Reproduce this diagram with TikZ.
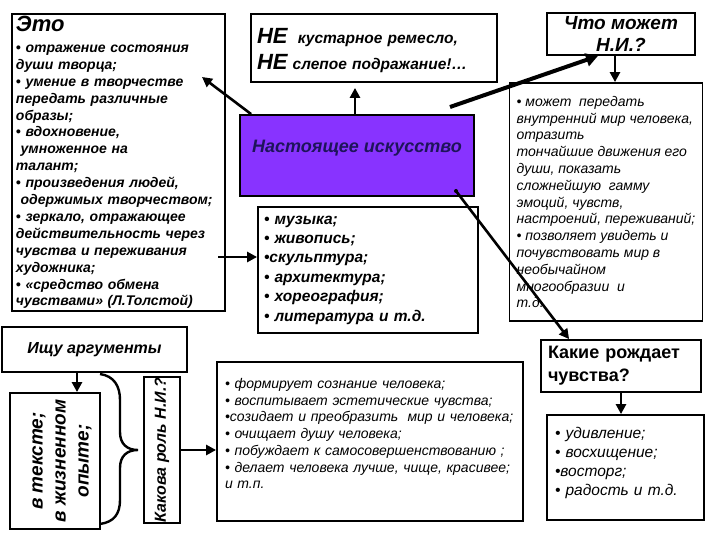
\documentclass[tikz,border=0pt]{standalone}
\usepackage{fontspec}
\setmainfont{Liberation Sans}
\usetikzlibrary{arrows.meta,calc}
\definecolor{artviolet}{RGB}{136,51,255}
\definecolor{artnavy}{RGB}{30,20,90}
\newcommand{\mybi}[2]{\fontsize{#1}{#2}\selectfont\bfseries\itshape}
\newcommand{\myit}[2]{\fontsize{#1}{#2}\selectfont\itshape}
\newcommand{\mybf}[2]{\fontsize{#1}{#2}\selectfont\bfseries}
\begin{document}
\begin{tikzpicture}[x=1pt,y=-1pt,
  box/.style={draw=black, line width=1.8pt, inner sep=0pt, fill=white},
  arr/.style={line width=2.6pt, -{Triangle[length=10pt,width=10pt]}},
  thickarr/.style={line width=4pt, -{Triangle[length=12pt,width=13pt]}}]
\useasboundingbox[fill=white] (0,0) rectangle (720,540);

% boxes
\node[box, minimum width=213pt, minimum height=297pt, text width=205pt, align=left,
      font=\mybi{14}{16.9}] (eto) at (118.5,162.5)
 {{\fontsize{22}{24}\selectfont Это}\\[4pt]
  • отражение состояния\\
  души творца;\\
  • умение в творчестве\\
  передать различные\\
  образы;\\
  • вдохновение,\\
  \ умноженное на\\
  талант;\\
  • произведения людей,\\
  \ одержимых творчеством;\\
  • зеркало, отражающее\\
  действительность через\\
  чувства и переживания\\
  художника;\\
  • «средство обмена\\
  чувствами» (Л.Толстой)};

\node[box, minimum width=246pt, minimum height=68pt, text width=234pt, align=left,
      font=\mybi{15.5}{26}, text depth=24pt] (ne) at (374,48)
 {{\fontsize{22}{24}\selectfont НЕ} \ кустарное ремесло,\\
  {\fontsize{22}{24}\selectfont НЕ} слепое подражание!…};

\node[box, fill=artviolet, minimum width=234pt, minimum height=81pt,
      font=\mybi{18}{21}, text=artnavy, text depth=18pt] (art) at (357,155.5)
 {Настоящее искусство};

\node[box, minimum width=220pt, minimum height=126pt, text width=208pt, align=left,
      font=\mybi{15.5}{19.4}] (list) at (368,270)
 {• музыка;\\
  • живопись;\\
  •скульптура;\\
  • архитектура;\\
  • хореография;\\
  • литература и т.д.};

\node[box, minimum width=148pt, minimum height=42pt, align=center,
      font=\mybi{19}{21.5}, text depth=0pt] (chto) at (621,34)
 {Что может\\ Н.И.?};

\node[box, minimum width=193pt, minimum height=238pt, align=left,
      font=\myit{14}{16.8}] (can) at (606,202)
 {• может \ передать\\
  внутренний мир человека,\\
  отразить\\
  тончайшие движения его\\
  души, показать\\
  сложнейшую \ гамму\\
  эмоций, чувств,\\
  настроений, переживаний;\\
  • позволяет увидеть и\\
  почувствовать мир в\\
  необычайном\\
  многообразии \ и\\
  т.д.};

\node[box, minimum width=185pt, minimum height=45pt,
      font=\mybi{16}{19}] (ishu) at (94.5,349.5) {Ищу аргументы};

\node[box, rotate=90, minimum width=136pt, minimum height=90pt, align=center,
      font=\mybi{19}{23}, text height=70pt] (where) at (55,461)
 {в тексте;\\ в жизненном\\ опыте;};

\node[box, rotate=90, minimum width=146pt, minimum height=36pt,
      font=\mybi{16}{18}] (role) at (162,450) {Какова роль Н.И.?};

\node[box, minimum width=306pt, minimum height=159pt, text width=290pt, align=left,
      font=\myit{14}{16.7}, text depth=116pt] (func) at (370,441.5)
 {• формирует сознание человека;\\
  • воспитывает эстетические чувства;\\
  •созидает и преобразить \ мир и человека;\\
  • очищает душу человека;\\
  • побуждает к самосовершенствованию ;\\
  • делает человека лучше, чище, красивее;\\
  и т.п.};

\node[box, minimum width=160pt, minimum height=52pt, text width=146pt, align=left,
      font=\mybf{18}{23}] (which) at (621,366)
 {Какие рождает\\ чувства?};

\node[box, minimum width=157pt, minimum height=105pt, text width=141pt, align=left,
      font=\myit{15.5}{19}, text depth=70pt] (feel) at (625.5,467.5)
 {• удивление;\\
  • восхищение;\\
  •восторг;\\
  • радость и т.д.};

% brace
\draw[line width=2.4pt] (100,374) .. controls (114,376) and (120,386) .. (120,400)
  -- (120,432) .. controls (120,444) and (127,450) .. (138,450)
  .. controls (127,450) and (120,456) .. (120,468)
  -- (120,500) .. controls (120,514) and (114,522) .. (100,524);

% free ends
\coordinate (etoin) at (202,77);
\coordinate (etoout) at (218,257);
\coordinate (artne) at (450,107);
\coordinate (artse) at (456,191);

% connectors
\draw[arr] ([xshift=12pt]art.north west) -- (etoin);
\draw[arr, shorten >=5pt] ([xshift=-2pt]art.north) -- ([xshift=-2pt]art.north |- ne.south);
\draw[arr] (etoout) -- (etoout -| list.west);
\draw[thickarr] (artne) -- ([xshift=-23pt]chto.south);
\draw[arr] ([xshift=-6pt]chto.south) -- ([xshift=-6pt]chto.south |- can.north);
\fill (artse) circle (2pt);
\draw[arr] (artse) -- ([xshift=29pt]which.north west);
\draw[arr] (which.south) -- (which.south |- feel.north);
\draw[arr] ([xshift=-17.5pt]ishu.south) -- ([xshift=-17.5pt]ishu.south |- where.east);
\draw[arr] (role.south) -- (role.south -| func.west);
\end{tikzpicture}
\end{document}
